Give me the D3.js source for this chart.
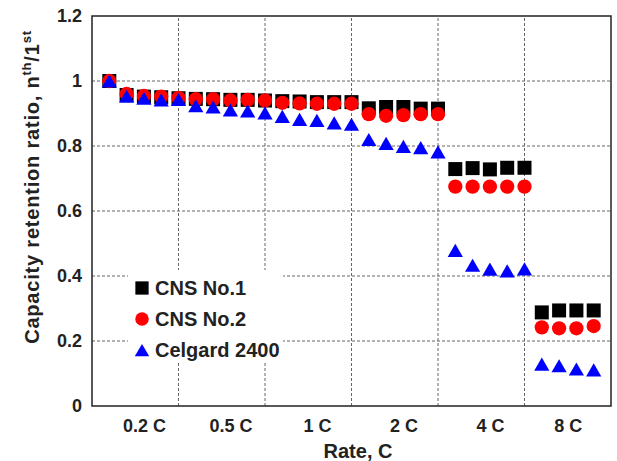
<!DOCTYPE html>
<html>
<head>
<meta charset="utf-8">
<script src="https://cdn.jsdelivr.net/npm/d3@7"></script>
<style>
  body { margin: 0; background: #fff; }
  text { font-family: "Liberation Sans", Arial, sans-serif; font-weight: bold; fill: #222; }
</style>
</head>
<body>
<div id="viz"></div>
<script>
// data
var cycles = d3.range(1, 30)
var rateLabels = ["0.2 C", "0.5 C", "1 C", "2 C", "4 C", "8 C"]
var rateGroups = [[1, 5], [6, 10], [11, 15], [16, 20], [21, 25], [26, 29]]
var cns1 = [1.0, 0.957, 0.952, 0.95, 0.947, 0.945, 0.944, 0.942, 0.942, 0.94,
  0.938, 0.937, 0.935, 0.935, 0.935, 0.916, 0.92, 0.92, 0.915, 0.915,
  0.729, 0.732, 0.728, 0.733, 0.733, 0.288, 0.294, 0.294, 0.294]
var cns2 = [1.0, 0.96, 0.954, 0.952, 0.948, 0.944, 0.944, 0.94, 0.942, 0.94,
  0.933, 0.931, 0.93, 0.93, 0.93, 0.898, 0.893, 0.895, 0.898, 0.898,
  0.675, 0.675, 0.675, 0.675, 0.675, 0.242, 0.239, 0.239, 0.246]
var celgard = [1.0, 0.953, 0.947, 0.942, 0.943, 0.924, 0.92, 0.911, 0.908, 0.902,
  0.891, 0.882, 0.879, 0.871, 0.867, 0.82, 0.808, 0.799, 0.795, 0.782,
  0.479, 0.433, 0.421, 0.416, 0.422, 0.129, 0.124, 0.114, 0.111]
var seriesNames = ["CNS No.1", "CNS No.2", "Celgard 2400"]
var yTicks = [0, 0.2, 0.4, 0.6, 0.8, 1, 1.2]
var xGrid = [5, 10, 15, 20, 25]

var w = 617
var h = 461
var m = { top: 16, right: 6, bottom: 55, left: 92 }

var x = d3.scaleLinear().domain([0, 30]).range([m.left, w - m.right])
var y = d3.scaleLinear().domain([0, 1.2]).range([h - m.bottom, m.top])

var svg = d3.select("#viz").append("svg")
  .attr("width", w)
  .attr("height", h)

// grid
svg.append("g").selectAll("line").data(yTicks.slice(1, -1))
  .enter().append("line")
  .attr("x1", x(0)).attr("x2", x(30))
  .attr("y1", d => y(d)).attr("y2", d => y(d))
  .attr("stroke", "#666").attr("stroke-width", 1).attr("stroke-dasharray", "3,2")

svg.append("g").selectAll("line").data(xGrid)
  .enter().append("line")
  .attr("x1", d => x(d)).attr("x2", d => x(d))
  .attr("y1", y(0)).attr("y2", y(1.2))
  .attr("stroke", "#666").attr("stroke-width", 1).attr("stroke-dasharray", "3,2")

// legend background hides the grid
svg.append("rect")
  .attr("x", 128).attr("y", 270).attr("width", 155).attr("height", 93)
  .attr("fill", "#fff")

// y axis labels
var yAxis = d3.axisLeft(y).tickValues(yTicks).tickSize(0).tickPadding(10).tickFormat(d => d)
svg.append("g")
  .attr("transform", `translate(${m.left},0)`)
  .call(yAxis)
  .call(g => g.select(".domain").remove())
  .selectAll("text")
  .style("font-size", "18px")
  .attr("fill", "#222")

// rate labels under the groups
var xAxis = d3.axisBottom(x)
  .tickValues(rateGroups.map(g => d3.mean(d3.range(g[0], g[1] + 1))))
  .tickSize(0).tickPadding(13)
  .tickFormat((d, i) => rateLabels[i])
svg.append("g")
  .attr("transform", `translate(0,${y(0)})`)
  .call(xAxis)
  .call(g => g.select(".domain").remove())
  .selectAll("text")
  .style("font-size", "18px")
  .attr("fill", "#222")

// frame
svg.append("rect")
  .attr("x", x(0)).attr("y", y(1.2))
  .attr("width", x(30) - x(0)).attr("height", y(0) - y(1.2))
  .attr("fill", "none").attr("stroke", "#222").attr("stroke-width", 1.5)

// markers
var shapes = [d3.symbolSquare, d3.symbolCircle, d3.symbolTriangle]
var sizes = [196, 160, 100]
var colors = ["#000", "#ff0000", "#0000ff"]
var shift = [0, 0, 2.2] // d3 triangle sits on its centroid, move it to its box centre
var allSeries = [cns1, cns2, celgard]

allSeries.forEach((vals, s) => {
  svg.append("g").selectAll("path").data(cycles)
    .enter().append("path")
    .attr("d", d3.symbol().type(shapes[s]).size(sizes[s]))
    .attr("transform", (d, i) => `translate(${x(d)},${y(vals[i]) + shift[s]})`)
    .attr("fill", colors[s])
})

// legend
var legend = svg.append("g").selectAll("g").data(seriesNames)
  .enter().append("g")
  .attr("transform", (d, i) => `translate(142,${288 + i * 31})`)
legend.append("path")
  .attr("d", (d, i) => d3.symbol().type(shapes[i]).size(sizes[i] * 0.9)())
  .attr("transform", (d, i) => `translate(0,${shift[i]})`)
  .attr("fill", (d, i) => colors[i])
legend.append("text")
  .attr("x", 13).attr("dy", "0.35em")
  .style("font-size", "20px")
  .text(d => d)

// axis titles
svg.append("text")
  .attr("x", 358).attr("y", 458)
  .attr("text-anchor", "middle")
  .style("font-size", "20px")
  .text("Rate, C")

var yt = svg.append("text")
  .attr("transform", "translate(39,187) rotate(-90)")
  .attr("text-anchor", "middle")
  .style("font-size", "20px")
  .style("letter-spacing", "0.8px")
yt.append("tspan").text("Capacity retention ratio, n")
yt.append("tspan").attr("dy", -8).style("font-size", "13px").text("th")
yt.append("tspan").attr("dy", 8).text("/1")
yt.append("tspan").attr("dy", -8).style("font-size", "13px").text("st")
</script>
</body>
</html>
